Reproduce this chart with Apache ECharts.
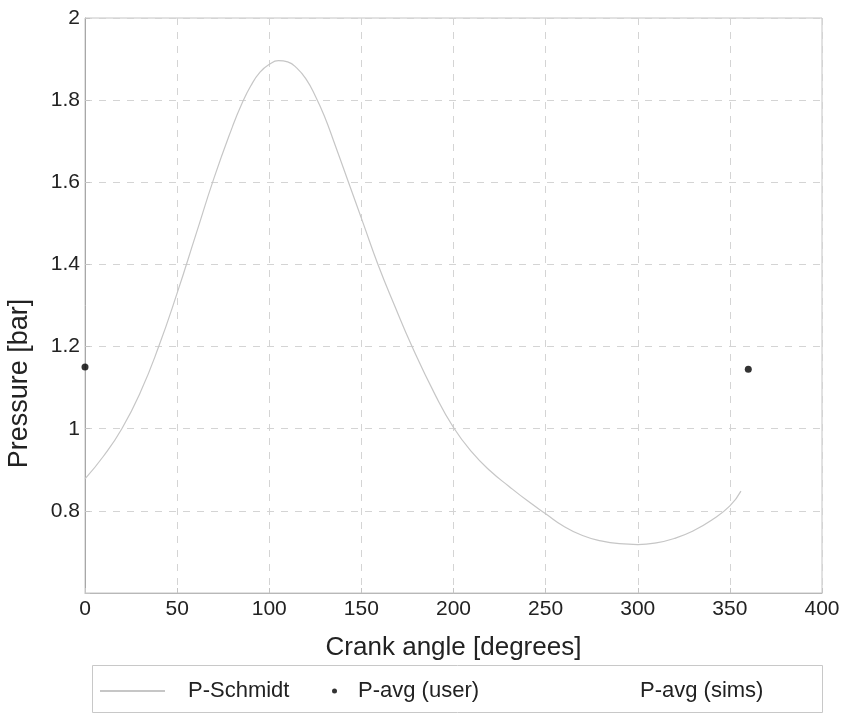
<!DOCTYPE html>
<html>
<head>
<meta charset="utf-8">
<script src="https://cdn.jsdelivr.net/npm/echarts@6.0.0/dist/echarts.min.js"></script>
<style>
  html, body { margin: 0; padding: 0; background: #ffffff; }
  #chart { width: 848px; height: 716px; }
</style>
</head>
<body>
<div id="chart"></div>
<script>
// Schmidt pressure over one crank revolution
const crankAngle = [0, 10, 20, 30, 40, 50, 60, 70, 80, 85, 90, 95, 100, 105, 110, 115, 120, 125, 130, 135, 143, 151, 159, 168, 177.5, 190, 200, 210, 220, 230, 240, 250, 260, 270, 280, 290, 300, 310, 320, 330, 340, 350, 356];
const pSchmidt   = [0.878, 0.933, 1.0, 1.088, 1.20, 1.33, 1.47, 1.61, 1.735, 1.79, 1.835, 1.868, 1.887, 1.896, 1.893, 1.878, 1.851, 1.81, 1.76, 1.70, 1.60, 1.50, 1.40, 1.30, 1.20, 1.083, 1.003, 0.943, 0.897, 0.860, 0.825, 0.793, 0.762, 0.740, 0.727, 0.720, 0.718, 0.722, 0.733, 0.751, 0.777, 0.812, 0.848];

// Average pressure entered by the user
const userAngle = [0, 360];
const userAvg   = [1.15, 1.145];

// Simulated average pressure (no samples)
const simsAngle = [];
const simsAvg   = [];

const xTicks = { min: 0, max: 400, step: 50 };
const yTicks = { min: 0.6, max: 2, step: 0.2 };

const zip = (xs, ys) => xs.map((x, i) => [x, ys[i]]);

const FONT = 'Liberation Sans, Arial, Helvetica, sans-serif';
const TXT = '#222222';

const chart = echarts.init(document.getElementById('chart'), null, { renderer: 'canvas' });

chart.setOption({
  backgroundColor: '#ffffff',
  animation: false,
  grid: {
    left: 85, top: 18, right: 26, bottom: 123,
    outerBoundsMode: 'none', containLabel: false,
    show: true, borderColor: '#c4c4c4', borderWidth: 1, backgroundColor: 'transparent'
  },
  xAxis: {
    type: 'value',
    min: xTicks.min, max: xTicks.max, interval: xTicks.step,
    name: 'Crank angle [degrees]',
    nameLocation: 'middle', nameGap: 42,
    nameTextStyle: { fontFamily: FONT, fontSize: 26, color: TXT },
    axisLine: { show: true, lineStyle: { color: '#b8b8b8', width: 1 } },
    axisTick: { show: true, inside: true, length: 5, lineStyle: { color: '#c4c4c4' } },
    axisLabel: { fontFamily: FONT, fontSize: 21, color: TXT, margin: 6 },
    splitLine: { show: true, lineStyle: { color: '#d4d4d4', type: [7, 7], width: 1 } }
  },
  yAxis: {
    type: 'value',
    min: yTicks.min, max: yTicks.max, interval: yTicks.step,
    name: 'Pressure [bar]',
    nameLocation: 'middle', nameGap: 52, nameRotate: 90,
    nameTextStyle: { fontFamily: FONT, fontSize: 27, color: TXT, padding: [0, 156, 0, 0] },
    axisLine: { show: true, lineStyle: { color: '#a8a8a8', width: 1 } },
    axisTick: { show: true, inside: true, length: 5, lineStyle: { color: '#c4c4c4' } },
    axisLabel: {
      fontFamily: FONT, fontSize: 21, color: TXT, margin: 5,
      formatter: v => (Math.abs(v - yTicks.min) < 1e-9 ? '' : String(Math.round(v * 10) / 10))
    },
    splitLine: { show: true, lineStyle: { color: '#d4d4d4', type: [7, 7], width: 1 } }
  },
  legend: [
    {
      data: ['P-Schmidt'], left: 100, top: 680, padding: 0,
      itemWidth: 65, itemHeight: 2, itemGap: 0,
      textStyle: { fontFamily: FONT, fontSize: 22, color: TXT, padding: [0, 0, 0, 18] },
      icon: 'rect'
    },
    {
      data: ['P-avg (user)'], left: 332, top: 680, padding: 0,
      itemWidth: 5, itemHeight: 5, itemGap: 0,
      textStyle: { fontFamily: FONT, fontSize: 22, color: TXT, padding: [0, 0, 0, 16] },
      icon: 'circle'
    },
    {
      data: ['P-avg (sims)'], left: 575, top: 680, padding: 0,
      itemWidth: 60, itemHeight: 2, itemGap: 0,
      textStyle: { fontFamily: FONT, fontSize: 22, color: TXT, padding: [0, 0, 0, 0] },
      icon: 'rect'
    }
  ],
  graphic: [
    {
      type: 'rect', left: 92, top: 665, z: -1,
      shape: { width: 730, height: 47 },
      style: { fill: '#ffffff', stroke: '#c8c8c8', lineWidth: 1 }
    }
  ],
  series: [
    {
      name: 'P-Schmidt', type: 'line',
      data: zip(crankAngle, pSchmidt),
      showSymbol: false, smooth: 0.5,
      lineStyle: { color: '#c6c6c6', width: 1.2 },
      itemStyle: { color: '#c6c6c6' }
    },
    {
      name: 'P-avg (user)', type: 'scatter',
      data: zip(userAngle, userAvg),
      symbol: 'circle', symbolSize: 7, clip: false,
      itemStyle: { color: '#000000' }
    },
    {
      name: 'P-avg (sims)', type: 'line',
      data: zip(simsAngle, simsAvg),
      showSymbol: false,
      lineStyle: { color: 'rgba(255,255,255,0)' },
      itemStyle: { color: 'rgba(255,255,255,0)' }
    }
  ]
});
</script>
</body>
</html>
